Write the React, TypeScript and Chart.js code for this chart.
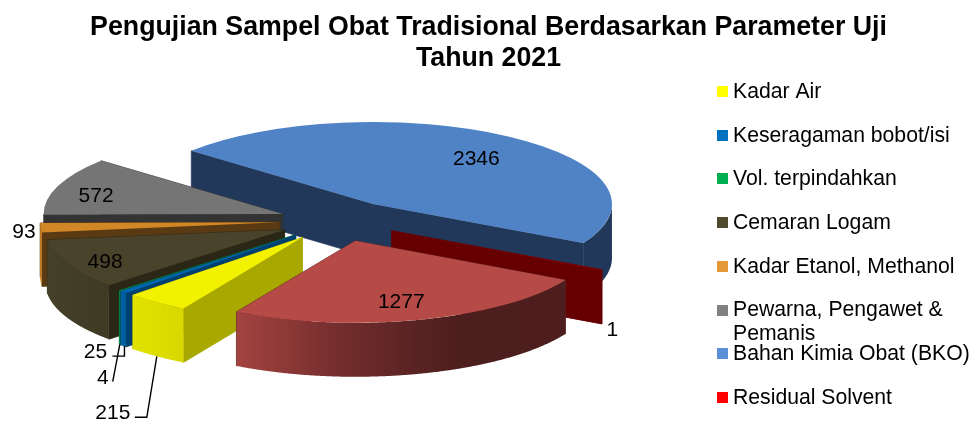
import React, { useEffect, useRef } from "react";
import { Chart, registerables } from "chart.js";

Chart.register(...registerables);

const titleLines = ["Pengujian Sampel Obat Tradisional Berdasarkan Parameter Uji", "Tahun 2021"];
const categories = [
  "Kadar Air",
  "Keseragaman bobot/isi",
  "Vol. terpindahkan",
  "Cemaran Logam",
  "Kadar Etanol, Methanol",
  "Pewarna, Pengawet & Pemanis",
  "Bahan Kimia Obat (BKO)",
  "Residual Solvent",
  "",
];
const values = [215, 25, 4, 498, 93, 572, 2346, 1, 1277];

const legendLines = [
  ["Kadar Air"],
  ["Keseragaman bobot/isi"],
  ["Vol. terpindahkan"],
  ["Cemaran Logam"],
  ["Kadar Etanol, Methanol"],
  ["Pewarna, Pengawet &", "Pemanis"],
  ["Bahan Kimia Obat (BKO)"],
  ["Residual Solvent"],
];
const legendColors = ["#FFFF00", "#0070C0", "#00B050", "#4F4A2E", "#E49A36", "#808080", "#5B8FD6", "#FF0000"];

const topColors = ["#F2F200", "#0067B0", "#00A04A", "#4A432B", "#D28727", "#757575", "#4F83C6", "#E00000", "#B54A47"];
const sideColors = ["#A8A800", "#00406E", "#006030", "#2A2716", "#5A3A12", "#333333", "#22385A", "#660000", "#5A2222"];
const wallStops: string[][] = [
  ["#E2E200", "#D8D800"],
  ["#0062A8", "#005C9C"],
  ["#00904A", "#00904A"],
  ["#45402A", "#3F3A24"],
  ["#C97E22", "#C97E22"],
  ["#6A6A6A", "#6A6A6A"],
  ["#22385A", "#22385A"],
  ["#660000", "#660000"],
  ["#A34340", "#702C2B", "#4D1E1E", "#4E1E1E"],
];

// painter's order, back to front
const drawOrder = [6, 7, 5, 4, 3, 2, 1, 0, 8];

// projection of the pie
const CENTER_X = 339;
const CENTER_Y = 221;
const SQUASH = 0.343;
const EXPLODE = 60;
const DEPTH = 54;
const RADIUS = 239;
const ROTATION = 209.85;

// label placement: fraction along the slice's mid radius, plus a nudge in px
const labelPlace: { f: number; nx: number; ny: number }[] = [
  { f: 1, nx: -44, ny: 110.5 },
  { f: 1, nx: -28, ny: 60.5 },
  { f: 1, nx: -17, ny: 87.5 },
  { f: 0.8, nx: -6, ny: 4.5 },
  { f: 1.07, nx: 0, ny: 4.5 },
  { f: 0.8, nx: -7, ny: 4.5 },
  { f: 0.72, nx: 6, ny: 3.5 },
  { f: 1.05, nx: 0, ny: 58.5 },
  { f: 0.75, nx: -3, ny: 2.5 },
];
// leader polylines, relative to the foot of the slice's outer wall
const leaders: Record<number, [number, number][]> = {
  0: [[0, 0], [-10, 61], [-22, 61]],
  1: [[1, 0], [1, 10], [-11, 10]],
  2: [[0, 0], [-7, 37]],
};

const FONT = '"Liberation Sans", Arial, sans-serif';

const piePlugin = {
  id: "pie3d",
  beforeDatasetDraw(chart: any, args: any) {
    const ctx: CanvasRenderingContext2D = chart.ctx;
    const meta = args.meta;
    const geom = (el: any) => {
      const mid = (el.startAngle + el.endAngle) / 2;
      const ax = CENTER_X + Math.cos(mid) * EXPLODE;
      const ay = CENTER_Y + Math.sin(mid) * EXPLODE * SQUASH;
      const R = el.outerRadius;
      const p = (a: number): [number, number] => [ax + R * Math.cos(a), ay + R * SQUASH * Math.sin(a)];
      return { mid, ax, ay, p };
    };

    for (const i of drawOrder) {
      const el = meta.data[i];
      const { ax, ay, p } = geom(el);
      ctx.save();
      // radial side faces
      ctx.fillStyle = sideColors[i];
      ctx.strokeStyle = sideColors[i];
      ctx.lineWidth = 0.7;
      for (const a of [el.startAngle, el.endAngle]) {
        const [x, y] = p(a);
        ctx.beginPath();
        ctx.moveTo(ax, ay);
        ctx.lineTo(x, y);
        ctx.lineTo(x, y + DEPTH);
        ctx.lineTo(ax, ay + DEPTH);
        ctx.closePath();
        ctx.fill();
        ctx.stroke();
      }
      // outer wall, only the front-facing part
      const pts: [number, number][] = [];
      const N = 360;
      for (let s = 0; s <= N; s++) {
        const a = el.startAngle + ((el.endAngle - el.startAngle) * s) / N;
        if (Math.sin(a) >= 0) pts.push(p(a));
      }
      if (pts.length > 1) {
        const xs = pts.map((q) => q[0]);
        const g = ctx.createLinearGradient(Math.min(...xs), 0, Math.max(...xs), 0);
        const stops = [...wallStops[i]];
        // stops run left to right in the picture
        stops.forEach((c, k) => g.addColorStop(k / (stops.length - 1), c));
        ctx.fillStyle = g;
        ctx.beginPath();
        pts.forEach((q, k) => (k ? ctx.lineTo(q[0], q[1]) : ctx.moveTo(q[0], q[1])));
        for (let k = pts.length - 1; k >= 0; k--) ctx.lineTo(pts[k][0], pts[k][1] + DEPTH);
        ctx.closePath();
        ctx.fill();
      }
      ctx.restore();

      // top face: the library's own arc under the projection
      ctx.save();
      ctx.translate(ax, ay);
      ctx.scale(1, SQUASH);
      ctx.translate(-el.x, -el.y);
      el.draw(ctx);
      ctx.restore();
    }
    return false;
  },
  afterDatasetsDraw(chart: any) {
    const ctx: CanvasRenderingContext2D = chart.ctx;
    const meta = chart.getDatasetMeta(0);
    ctx.save();
    ctx.fillStyle = "#000";
    ctx.strokeStyle = "#000";
    ctx.lineWidth = 1.4;
    ctx.font = `21px ${FONT}`;
    ctx.textAlign = "center";
    ctx.textBaseline = "middle";
    values.forEach((v, i) => {
      const el = meta.data[i];
      const mid = (el.startAngle + el.endAngle) / 2;
      const ax = CENTER_X + Math.cos(mid) * EXPLODE;
      const ay = CENTER_Y + Math.sin(mid) * EXPLODE * SQUASH;
      const vx = el.outerRadius * Math.cos(mid);
      const vy = el.outerRadius * SQUASH * Math.sin(mid);
      const pl = labelPlace[i];
      ctx.fillText(String(v), ax + pl.f * vx + pl.nx, ay + pl.f * vy + pl.ny);
      const poly = leaders[i];
      if (poly) {
        const fx = ax + vx;
        const fy = ay + vy + DEPTH;
        ctx.beginPath();
        poly.forEach(([dx, dy], k) => (k ? ctx.lineTo(fx + dx, fy + dy) : ctx.moveTo(fx + dx, fy + dy)));
        ctx.stroke();
      }
    });

    // legend
    const top = 91.5;
    const step = 43.7;
    ctx.textAlign = "left";
    ctx.font = `21.2px ${FONT}`;
    legendLines.forEach((lines, i) => {
      const y = top + step * i;
      ctx.fillStyle = legendColors[i];
      ctx.fillRect(717, Math.round(y - 5.5), 11, 11);
      ctx.fillStyle = "#000";
      lines.forEach((t, k) => ctx.fillText(t, 733, y + 0.5 + k * 24));
    });
    ctx.restore();
  },
};

export default function App() {
  const ref = useRef<HTMLCanvasElement>(null);
  useEffect(() => {
    const chart = new Chart(ref.current as HTMLCanvasElement, {
      type: "pie",
      data: {
        labels: categories,
        datasets: [{ data: values, backgroundColor: topColors, borderWidth: 0, radius: RADIUS } as any],
      },
      options: {
        responsive: false,
        animation: false,
        rotation: ROTATION,
        events: [],
        plugins: {
          legend: { display: false },
          tooltip: { enabled: false },
          title: {
            display: true,
            text: titleLines,
            color: "#000",
            font: { family: FONT, size: 26.75, weight: "bold", lineHeight: 1.16 },
            padding: { top: 12, bottom: 0 },
          },
        },
      },
      plugins: [piePlugin],
    } as any);
    return () => chart.destroy();
  }, []);
  return (
    <div style={{ position: "absolute", left: 0, top: 0, width: 977, height: 427, overflow: "hidden", background: "#fff" }}>
      <canvas ref={ref} width={977} height={427} style={{ display: "block" }} />
    </div>
  );
}
